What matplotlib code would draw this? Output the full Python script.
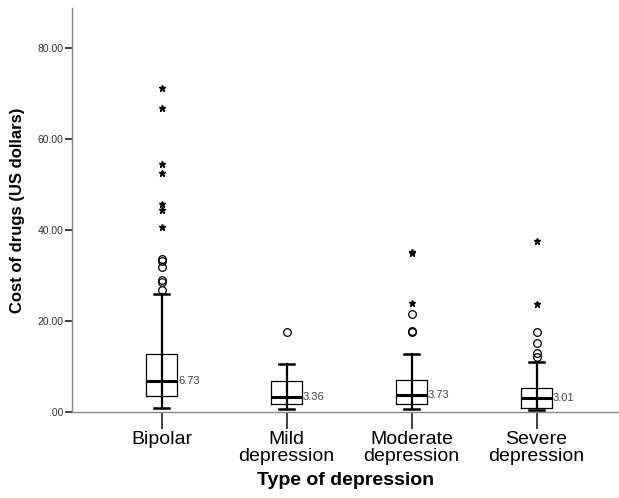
import matplotlib.pyplot as plt

plt.rcParams['font.family'] = ['Liberation Sans', 'DejaVu Sans']

# Data
groups = ['Bipolar', 'Mild\ndepression', 'Moderate\ndepression', 'Severe\ndepression']
medians = [6.73, 3.36, 3.73, 3.01]
q1 = [3.5, 1.7, 1.7, 0.9]
q3 = [12.7, 6.7, 7.0, 5.2]
whisk_lo = [0.77, 0.6, 0.6, 0.4]
whisk_hi = [26.0, 10.6, 12.7, 10.9]
outliers = [
    [26.7, 28.5, 29.0, 31.9, 33.2, 33.7],
    [17.5],
    [17.5, 17.7, 21.5],
    [12.0, 12.9, 15.2, 17.5],
]
extremes = [
    [40.7, 44.4, 45.6, 52.5, 54.4, 66.7, 71.2],
    [],
    [24.0, 35.0, 35.2],
    [23.8, 37.5],
]
yticks = [0, 20, 40, 60, 80]
ytick_labels = ['.00', '20.00', '40.00', '60.00', '80.00']

fig = plt.figure(figsize=(6.19, 4.98), dpi=100)
ax = fig.add_axes([0.116, 0.173, 0.884, 0.811])

stats = []
for i in range(len(groups)):
    stats.append({'med': medians[i], 'q1': q1[i], 'q3': q3[i],
                  'whislo': whisk_lo[i], 'whishi': whisk_hi[i],
                  'fliers': [], 'label': groups[i]})

pos = list(range(1, len(groups) + 1))
ax.bxp(stats, positions=pos, widths=0.25, showfliers=False,
       boxprops=dict(color='black', linewidth=0.9),
       medianprops=dict(color='black', linewidth=2.2),
       whiskerprops=dict(color='black', linewidth=1.6),
       capprops=dict(color='black', linewidth=1.8),
       capwidths=0.12, zorder=3)

# whisker line continues through the box
ax.vlines(pos, q1, q3, color='black', linewidth=1.6, zorder=3)

for i, p in enumerate(pos):
    ax.plot([p] * len(outliers[i]), outliers[i], 'o', markerfacecolor='none',
            markeredgecolor='black', markersize=5.5, markeredgewidth=0.9, zorder=4)
    ax.plot([p] * len(extremes[i]), extremes[i], '*', color='black',
            markersize=5, zorder=4)
    ax.text(p + 0.13, medians[i], '%.2f' % medians[i], fontsize=8,
            color='#444444', va='center', ha='left')

ax.set_xlim(0.28, 4.66)
ax.set_ylim(0, 88.8)
ax.set_yticks(yticks)
ax.set_yticklabels(ytick_labels, fontsize=7.5, color='#333333')
ax.set_xticks(pos)
ax.set_xticklabels(groups, fontsize=14, linespacing=0.95)

for s in ['top', 'right']:
    ax.spines[s].set_visible(False)
for s in ['left', 'bottom']:
    ax.spines[s].set_color('#888888')
    ax.spines[s].set_linewidth(1.0)

ax.tick_params(axis='y', length=5, width=1.3, color='#333333', pad=1)
ax.tick_params(axis='x', length=12, width=1.3, color='#333333', pad=2)

ax.set_xlabel('Type of depression', fontsize=14, fontweight='bold', labelpad=5)
ax.set_ylabel('Cost of drugs (US dollars)', fontsize=12, fontweight='bold', labelpad=9)

fig.savefig('out.png', dpi=100)
